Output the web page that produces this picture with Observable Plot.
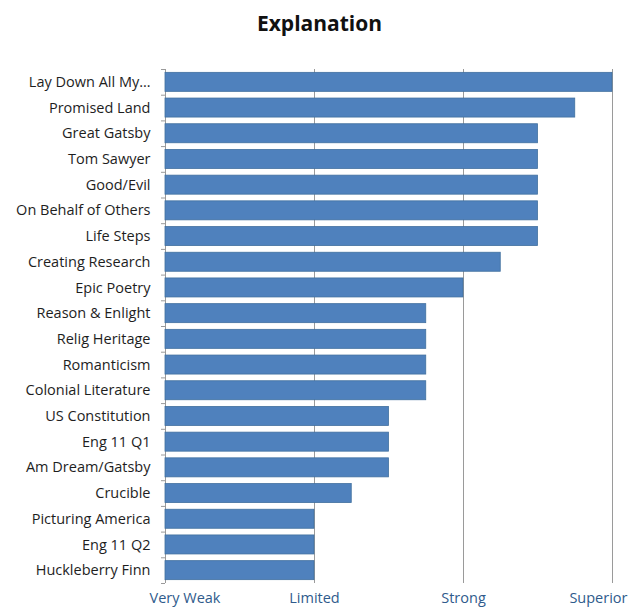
<!DOCTYPE html>
<html>
<head>
<meta charset="utf-8">
<script src="https://cdn.jsdelivr.net/npm/d3@7"></script>
<script src="https://cdn.jsdelivr.net/npm/@observablehq/plot@0.6"></script>
<style>
  body { margin: 0; background: #fff; font-family: "Open Sans", sans-serif; }
  #title { height: 50px; line-height: 46px; text-align: center; font-weight: bold; font-size: 21px; color: #111; }
  #chart svg { display: block; }
</style>
</head>
<body>
<div id="title">Explanation</div>
<div id="chart"></div>
<script>
// Units, top to bottom
const units = [
  "Lay Down All My…", "Promised Land", "Great Gatsby", "Tom Sawyer", "Good/Evil",
  "On Behalf of Others", "Life Steps", "Creating Research", "Epic Poetry",
  "Reason & Enlight", "Relig Heritage", "Romanticism", "Colonial Literature",
  "US Constitution", "Eng 11 Q1", "Am Dream/Gatsby", "Crucible",
  "Picturing America", "Eng 11 Q2", "Huckleberry Finn"
];
// Rating on the 0–3 scale (Very Weak … Superior)
const ratings = [3, 2.75, 2.5, 2.5, 2.5, 2.5, 2.5, 2.25, 2, 1.75, 1.75, 1.75, 1.75, 1.5, 1.5, 1.5, 1.25, 1, 1, 1];
// Scale level names
const levels = ["Very Weak", "Limited", "Strong", "Superior"];

const data = units.map((u, i) => ({unit: u, rating: ratings[i]}));

const width = 639, height = 559;
const mTop = 19, mBottom = 26, mLeft = 165, mRight = 27;
const step = (height - mTop - mBottom) / units.length;
const tickLen = 4 * 3 / (width - mLeft - mRight);

const levelText = (values, opts) =>
  Plot.text(values, {x: d => d, frameAnchor: "bottom", dy: 19, text: d => levels[d],
                     fill: "#2f5b8c", fontSize: 14.5, ...opts});

const chart = Plot.plot({
  width, height,
  marginTop: mTop, marginBottom: mBottom, marginLeft: mLeft, marginRight: mRight,
  style: {fontFamily: "Open Sans, sans-serif", fontSize: "14.5px", background: "#fff"},
  x: {domain: [0, 3], axis: null},
  y: {domain: units, paddingInner: 0.26, paddingOuter: 0.13, round: false, axis: null},
  marks: [
    // vertical gridlines at each level
    Plot.ruleX([1, 2, 3], {stroke: "#9a9a9a", strokeWidth: 1}),
    // left axis line
    Plot.ruleX([0], {stroke: "#9a9a9a", strokeWidth: 1}),
    // small ticks between categories
    Plot.ruleY(units, {y: d => d, dy: -step / 2, x1: -tickLen, x2: 0, stroke: "#9a9a9a"}),
    Plot.ruleY([units[units.length - 1]], {y: d => d, dy: step / 2, x1: -tickLen, x2: 0, stroke: "#9a9a9a"}),
    Plot.barX(data, {x: "rating", y: "unit", fill: "#4F81BD", stroke: "#41709f", strokeWidth: 0.8}),
    // category labels
    Plot.text(data, {x: 0, y: "unit", text: "unit", textAnchor: "end", dx: -15, fill: "#1e1e1e", fontSize: 14.5}),
    // level labels under the plot; the outer two are kept inside the frame
    levelText([0], {textAnchor: "start", dx: -16}),
    levelText([1, 2], {}),
    levelText([3], {textAnchor: "end", dx: 15})
  ]
});
document.getElementById("chart").appendChild(chart);
</script>
</body>
</html>
